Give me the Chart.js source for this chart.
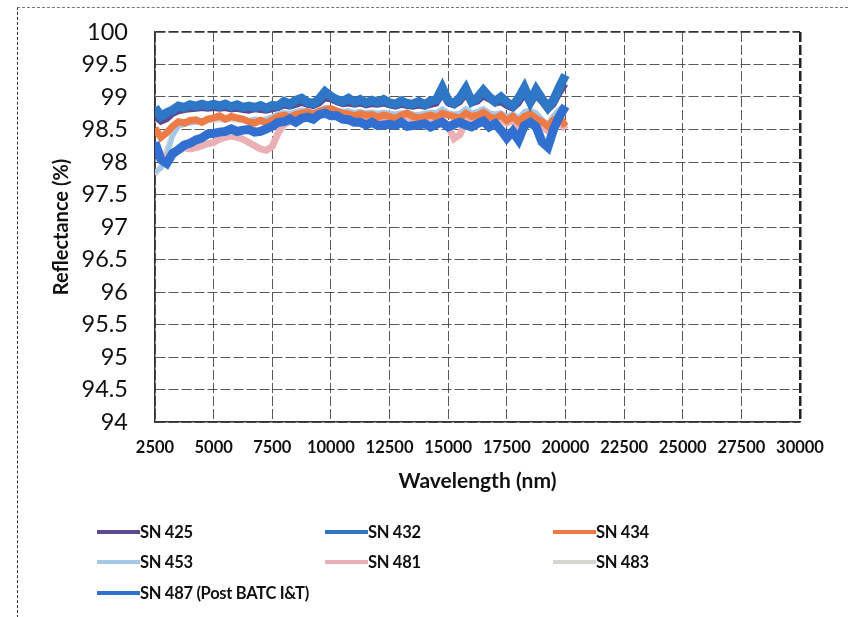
<!DOCTYPE html>
<html>
<head>
<meta charset="utf-8">
<script src="https://cdn.jsdelivr.net/npm/chart.js@4.4.1/dist/chart.umd.min.js"></script>
<style>
  body { margin: 0; background: #fff; }
  #wrap { position: relative; width: 848px; height: 617px; overflow: hidden; }
  #frame { position: absolute; left: 17px; top: 7px; width: 840px; height: 620px;
           border-left: 1.5px dashed #333; border-top: 1.5px dashed #777; }
  #c { position: absolute; left: 0; top: 0; }
  .lg { position: absolute; display: flex; align-items: center; height: 22px;
        font-family: Lato, "Open Sans", sans-serif; font-weight: bold; font-size: 16.5px;
        color: #111; letter-spacing: -0.3px; white-space: nowrap; }
  .lg i { display: inline-block; width: 43px; height: 4px; margin-right: 0; }
</style>
</head>
<body>
<div id="wrap">
  <div id="frame"></div>
  <canvas id="c" width="848" height="617"></canvas>
</div>
<script>
const wavelength = [
  2500, 2750, 3000, 3250, 3500, 3750, 4000, 4250, 4500, 4750,
  5000, 5250, 5500, 5750, 6000, 6250, 6500, 6750, 7000, 7250,
  7500, 7750, 8000, 8250, 8500, 8750, 9000, 9250, 9500, 9750,
  10000, 10250, 10500, 10750, 11000, 11250, 11500, 11750, 12000, 12250,
  12500, 12750, 13000, 13250, 13500, 13750, 14000, 14250, 14500, 14750,
  15000, 15250, 15500, 15750, 16000, 16250, 16500, 16750, 17000, 17250,
  17500, 17750, 18000, 18250, 18500, 18750, 19000, 19250, 19500, 19750,
  20000
];

const sn425 = [
  98.70, 98.62, 98.66, 98.74, 98.78, 98.80, 98.81, 98.82, 98.83, 98.82,
  98.83, 98.82, 98.83, 98.81, 98.82, 98.80, 98.79, 98.81, 98.80, 98.79,
  98.81, 98.83, 98.87, 98.85, 98.88, 98.91, 98.88, 98.86, 98.90, 98.98,
  98.96, 98.92, 98.89, 98.90, 98.88, 98.90, 98.87, 98.89, 98.88, 98.90,
  98.87, 98.85, 98.88, 98.86, 98.85, 98.87, 98.85, 98.88, 98.90, 99.04,
  98.90, 98.87, 98.92, 99.04, 98.90, 98.93, 99.01, 98.96, 98.90, 98.92,
  98.86, 98.82, 98.90, 99.04, 98.89, 99.02, 98.92, 98.80, 98.89, 99.06,
  99.20
];
const sn432 = [
  98.84, 98.70, 98.76, 98.80, 98.86, 98.84, 98.88, 98.86, 98.89, 98.86,
  98.89, 98.86, 98.89, 98.85, 98.88, 98.84, 98.86, 98.84, 98.87, 98.83,
  98.87, 98.86, 98.93, 98.89, 98.95, 98.98, 98.92, 98.90, 98.97, 99.08,
  99.01, 98.96, 98.93, 98.98, 98.92, 98.96, 98.91, 98.95, 98.92, 98.96,
  98.91, 98.89, 98.94, 98.90, 98.89, 98.93, 98.88, 98.94, 98.96, 99.14,
  98.94, 98.90, 98.99, 99.13, 98.93, 98.99, 99.10, 99.00, 98.93, 99.00,
  98.92, 98.86, 98.98, 99.14, 98.93, 99.11, 98.97, 98.84, 98.96, 99.16,
  99.34
];
const sn434 = [
  98.52, 98.38, 98.45, 98.55, 98.62, 98.60, 98.64, 98.65, 98.61, 98.66,
  98.68, 98.71, 98.66, 98.70, 98.68, 98.66, 98.62, 98.60, 98.64, 98.60,
  98.65, 98.70, 98.72, 98.69, 98.73, 98.75, 98.77, 98.73, 98.78, 98.80,
  98.82, 98.78, 98.75, 98.74, 98.71, 98.74, 98.72, 98.73, 98.69, 98.72,
  98.70, 98.67, 98.72, 98.75, 98.70, 98.68, 98.70, 98.72, 98.69, 98.75,
  98.72, 98.70, 98.67, 98.75, 98.70, 98.72, 98.76, 98.70, 98.67, 98.72,
  98.64, 98.70, 98.62, 98.70, 98.74, 98.67, 98.62, 98.55, 98.65, 98.70,
  98.55
];
const sn453 = [
  97.85, 97.90, 98.10, 98.40, 98.55, 98.58, 98.60, 98.62, 98.64, 98.65,
  98.66, 98.68, 98.67, 98.68, 98.66, 98.65, 98.64, 98.66, 98.65, 98.66,
  98.70, 98.74, 98.76, 98.75, 98.78, 98.80, 98.79, 98.77, 98.80, 98.84,
  98.84, 98.80, 98.78, 98.79, 98.76, 98.78, 98.76, 98.77, 98.75, 98.77,
  98.75, 98.74, 98.76, 98.77, 98.74, 98.73, 98.75, 98.77, 98.76, 98.82,
  98.76, 98.74, 98.75, 98.82, 98.76, 98.78, 98.82, 98.76, 98.74, 98.76,
  98.70, 98.74, 98.68, 98.78, 98.80, 98.76, 98.66, 98.58, 98.72, 98.82,
  98.80
];
const sn481 = [
  98.22, 98.12, 98.06, 98.10, 98.18, 98.22, 98.20, 98.22, 98.25, 98.28,
  98.30, 98.35, 98.38, 98.40, 98.38, 98.35, 98.30, 98.25, 98.20, 98.18,
  98.24, 98.45, 98.58, 98.62, 98.65, 98.68, 98.70, 98.68, 98.72, 98.75,
  98.76, 98.74, 98.72, 98.70, 98.68, 98.70, 98.68, 98.70, 98.67, 98.68,
  98.66, 98.65, 98.68, 98.70, 98.66, 98.65, 98.67, 98.68, 98.66, 98.64,
  98.55, 98.36, 98.42, 98.62, 98.66, 98.68, 98.70, 98.66, 98.64, 98.66,
  98.60, 98.64, 98.55, 98.66, 98.70, 98.64, 98.55, 98.48, 98.58, 98.62,
  98.50
];
const sn483 = [
  97.80, 97.95, 98.20, 98.45, 98.55, 98.58, 98.60, 98.61, 98.62, 98.63,
  98.64, 98.65, 98.64, 98.66, 98.64, 98.63, 98.62, 98.63, 98.62, 98.63,
  98.66, 98.70, 98.72, 98.71, 98.74, 98.76, 98.75, 98.73, 98.76, 98.80,
  98.80, 98.77, 98.74, 98.75, 98.72, 98.74, 98.72, 98.73, 98.71, 98.73,
  98.71, 98.70, 98.72, 98.73, 98.70, 98.69, 98.71, 98.73, 98.72, 98.78,
  98.72, 98.70, 98.71, 98.78, 98.72, 98.74, 98.78, 98.72, 98.70, 98.72,
  98.66, 98.70, 98.64, 98.74, 98.76, 98.72, 98.62, 98.54, 98.68, 98.78,
  98.72
];
const sn487 = [
  98.30, 98.04, 97.98, 98.13, 98.19, 98.26, 98.29, 98.34, 98.37, 98.43,
  98.44, 98.46, 98.47, 98.51, 98.47, 98.49, 98.50, 98.46, 98.47, 98.51,
  98.55, 98.61, 98.62, 98.66, 98.61, 98.67, 98.69, 98.66, 98.73, 98.75,
  98.71, 98.71, 98.66, 98.65, 98.61, 98.61, 98.57, 98.61, 98.56, 98.57,
  98.58, 98.56, 98.61, 98.55, 98.56, 98.57, 98.59, 98.54, 98.58, 98.61,
  98.54, 98.58, 98.61, 98.57, 98.54, 98.59, 98.63, 98.54, 98.59, 98.49,
  98.37, 98.47, 98.34, 98.56, 98.61, 98.54, 98.31, 98.23, 98.51, 98.71,
  98.86
];

const seriesNames = ['SN 425', 'SN 432', 'SN 434', 'SN 453', 'SN 481', 'SN 483', 'SN 487 (Post BATC I&T)'];
const seriesValues = [sn425, sn432, sn434, sn453, sn481, sn483, sn487];
const seriesColors = ['#5b4a8e', '#2e77c6', '#ee7b45', '#a6c8e8', '#eab0b6', '#d6d6d0', '#3170d0'];
const seriesWidths = [6, 9, 7, 5, 7, 5, 9];
const seriesOrder = [6, 1, 2, 4, 3, 5, 0];

const xTicks = { min: 2500, max: 30000, step: 2500 };
const yTicks = { min: 94, max: 100, step: 0.5 };

const datasets = seriesNames.map((name, k) => ({
  label: name,
  data: wavelength.map((w, i) => ({ x: w, y: seriesValues[k][i] })),
  borderColor: seriesColors[k],
  backgroundColor: seriesColors[k],
  borderWidth: seriesWidths[k],
  pointRadius: 0,
  tension: 0,
  order: seriesOrder[k],
}));

new Chart(document.getElementById('c').getContext('2d'), {
  type: 'line',
  data: { datasets: datasets },
  options: {
    responsive: false,
    animation: false,
    devicePixelRatio: 1,
    layout: { padding: { left: 40, right: 48, top: 32, bottom: 117 } },
    plugins: { legend: { display: false }, tooltip: { enabled: false } },
    scales: {
      x: {
        type: 'linear',
        min: xTicks.min, max: xTicks.max,
        grid: {
          color: ctx => ctx.tick && ctx.tick.value === xTicks.max ? '#222' : 'rgba(60,60,60,0.85)',
          lineWidth: ctx => ctx.tick && ctx.tick.value === xTicks.max ? 2.5 : 1,
          drawTicks: false,
        },
        border: { color: '#333', width: 1.5, dash: [10, 3] },
        ticks: {
          stepSize: xTicks.step,
          padding: 16,
          maxRotation: 0,
          autoSkip: false,
          color: '#111',
          font: { family: 'Lato', size: 16.5, weight: 'bold' },
          callback: v => String(v),
        },
        title: {
          display: true,
          text: 'Wavelength (nm)',
          color: '#111',
          font: { family: 'Lato', size: 21, weight: 'bold' },
          padding: { top: 0, bottom: 6 },
        },
        afterFit: s => { s.height = 78; },
      },
      y: {
        min: yTicks.min, max: yTicks.max,
        grid: {
          color: ctx => ctx.tick && ctx.tick.value === yTicks.max ? '#333' : 'rgba(60,60,60,0.85)',
          lineWidth: ctx => ctx.tick && ctx.tick.value === yTicks.max ? 1.8 : 1,
          drawTicks: true,
          tickLength: 24,
          tickColor: 'rgba(0,0,0,0)',
        },
        border: { color: '#333', width: 1.5, dash: [10, 3] },
        ticks: {
          stepSize: yTicks.step,
          padding: 3,
          color: '#111',
          font: { family: 'Lato', size: 23.5 },
          callback: v => String(v),
        },
        title: {
          display: true,
          text: 'Reflectance (%)',
          color: '#111',
          font: { family: 'Lato', size: 20, weight: 'bold' },
          padding: { top: 10, bottom: 10 },
        },
        afterFit: s => { s.width = 115; },
      },
    },
  },
});

// legend laid out in three columns like the original
const legendCols = [97, 325, 553];
const legendRows = [532, 562, 593];
const wrap = document.getElementById('wrap');
seriesNames.forEach((name, k) => {
  const el = document.createElement('div');
  el.className = 'lg';
  el.style.left = legendCols[k % 3] + 'px';
  el.style.top = (legendRows[Math.floor(k / 3)] - 11) + 'px';
  const sw = document.createElement('i');
  sw.style.background = seriesColors[k];
  el.appendChild(sw);
  el.appendChild(document.createTextNode(name));
  wrap.appendChild(el);
});
</script>
</body>
</html>
